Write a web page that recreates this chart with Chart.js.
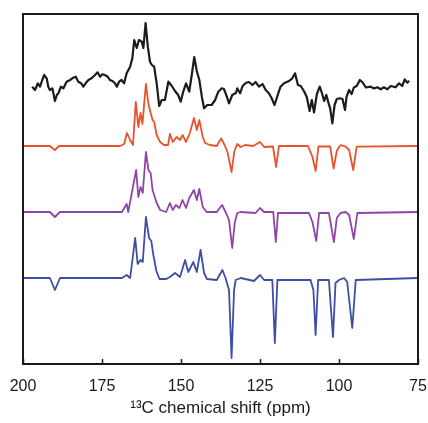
<!DOCTYPE html>
<html>
<head>
<meta charset="utf-8">
<script src="https://cdn.jsdelivr.net/npm/chart.js@4/dist/chart.umd.min.js"></script>
<style>
    html, body {margin: 0; padding: 0; background: #ffffff;}
    #wrap {width: 428px; height: 423px;}
</style>
</head>
<body>
<div id="wrap"><canvas id="nmr_canvas" width="428" height="423"></canvas></div>
<script>
// [ppm, intensity], intensity relative to each trace's own baseline
const experimental = [
    [197.1,3.3],[196.2,0],[195.3,6.7],[194.6,3.3],[193.9,10],[193.3,15],[192.5,11.7],[192.0,3.3],
    [191.5,0],[190.7,1.7],[189.9,-11],[189.3,-5],[188.8,-3.3],[188.0,3.3],[187.2,1.7],[186.2,8.3],
    [185.1,10],[184.1,12.3],[183.3,13.3],[182.5,8.3],[181.6,6.7],[180.9,3.3],[180.2,6.7],[179.3,10],
    [178.3,11.7],[177.2,15],[176.4,17.7],[175.6,13.3],[174.9,15.7],[174.1,15],[173.2,13.3],[172.5,10],
    [171.7,9],[170.9,6.7],[170.3,3.3],[169.6,8.3],[168.8,10],[168.0,6.7],[167.2,16.7],[166.1,23.3],
    [165.4,31.7],[164.8,50],[164.0,42],[163.3,50],[162.4,48.3],[161.9,42],[161.2,67],[160.5,43.3],
    [159.8,28],[159.2,25],[158.5,23.3],[157.7,6.7],[156.9,-16],[156.1,-10],[155.1,-10],[154.0,8.3],
    [152.9,4],[151.9,-1],[150.9,-5],[150.1,-11.7],[149.3,-1.7],[148.4,6.7],[147.4,-1.7],[146.6,15],
    [145.8,33],[145.0,19],[144.2,10],[143.4,-6.7],[142.7,-18.3],[141.7,-15],[140.3,-15],[139.2,-10],
    [138.2,-1.7],[137.1,1.7],[136.4,1],[135.5,-6.7],[134.8,-13.3],[133.8,-5],[132.6,-3],[132.2,1.7],
    [131.3,-3.3],[130.5,4],[129.4,7.3],[128.5,8],[127.4,5],[126.4,8],[125.3,3.3],[124.2,6],
    [123.2,0],[122.2,-3.3],[121.3,-8.3],[120.4,-15],[119.5,-6],[118.5,3.3],[117.4,6.7],[115.8,9],
    [114.8,11.7],[113.9,16.7],[113.0,5],[112.1,4],[111.1,-1],[110.2,-7],[109.3,-21],[108.6,-10],
    [107.9,-22.5],[107.0,-4],[106.1,3.3],[105.4,-3],[104.7,-11],[104.0,-5],[103.3,-13.3],[102.8,-18.3],
    [102.1,-33.3],[101.4,-15],[100.7,-9],[99.7,-8.3],[98.9,-9],[98.1,-20],[97.6,-6.7],[96.8,0],
    [96.0,-4],[95.3,2.5],[94.4,4],[93.4,10],[92.5,7.5],[91.5,2.5],[90.0,3.3],[88.9,1.5],
    [87.9,2.7],[86.8,0.7],[85.8,2.7],[84.7,0.7],[83.6,4],[82.1,2.7],[81.0,6.7],[80.0,4],
    [79.2,10.7],[78.4,7.3],[77.8,9.3]
];

const sim_red = [
    [200,0],[191.5,0],[189.9,-4],[188.6,0],[169.3,0],[168.0,2],[167.1,13],[166.1,6],[165.2,1],
    [164.3,44],[163.5,19],[162.8,33],[162.2,22],[161.1,62],[160.3,42],[159.6,33],[159.0,26],
    [158.5,24],[157.7,11],[156.6,4],[155.4,1],[154.1,1],[153.5,12],[152.6,4],[151.4,9],[150.3,6],
    [149.5,11],[148.4,4],[147.2,13],[145.9,28],[145.0,16],[144.2,26],[143.1,9],[142.4,3],[140.8,1],
    [138.7,0],[137.3,7.5],[136.2,1],[135.3,-6],[134.0,-26],[133.1,-5],[132.2,2],[131.1,-1],[129.7,1],
    [127.2,0],[125.0,4],[123.7,-1],[120.9,-0.5],[119.9,-21],[119.0,0],[109.8,0],[108.4,-11],
    [107.4,-25],[106.5,-0.5],[102.8,-0.5],[101.7,-22.5],[100.7,-5],[100.0,-1],[99.4,1],[97.9,-0.7],
    [96.8,-4],[95.5,-24],[94.4,-0.7],[75,0]
];

const sim_purple = [
    [200,0],[191.5,0],[189.9,-5],[188.3,0],[168.7,0],[167.2,8],[166.7,0],[164.2,42],[163.5,15],
    [162.8,25],[162.1,19],[161.1,60],[160.3,42],[159.6,39],[159.0,22],[157.7,9],[156.6,2],[154.7,0],
    [153.5,9],[152.6,2],[151.6,7],[150.5,4],[149.5,12],[148.4,4],[147.4,14],[145.9,22],[145.0,12],
    [144.2,23],[143.1,5],[141.9,0],[138.7,0],[137.0,7],[135.9,0],[134.8,-8],[133.8,-36],[133.0,-11],
    [132.2,-1],[131.1,0],[126.4,-1],[125.0,4],[123.7,0],[120.8,0],[120.0,-30],[119.3,-1],[109.5,-1],
    [108.4,-10],[107.2,-29],[106.3,-1],[103.2,-1],[101.6,-30],[100.7,-6],[99.5,-1],[97.9,0],
    [96.8,-3],[95.3,-27],[94.2,-1],[75,0]
];

const sim_blue = [
    [200,0],[191.5,0],[189.9,-12],[188.3,0],[168.7,0],[167.2,3],[166.1,0],[164.5,40],[163.7,14],
    [162.8,18],[162.1,16],[161.1,61],[160.1,40],[159.4,37],[158.8,24],[157.8,7],[156.8,-1],[154.7,-1],
    [153.5,1],[151.9,5],[150.3,1],[148.7,18],[147.7,6],[146.1,16],[145.0,6],[143.8,28],[142.7,5],
    [141.8,-1],[138.7,-2],[136.9,8],[135.9,0],[134.8,-12],[134.0,-80],[133.2,-12],[132.7,-2],
    [131.1,0],[126.9,-3],[125.0,3],[123.7,-2],[121.1,-2],[120.3,-65],[119.5,-2],[109.0,-2],
    [108.1,-12],[107.4,-57],[106.6,-2],[103.2,-2],[101.9,-59],[101.1,-5],[100.0,-2],[98.4,0],
    [97.4,-4],[95.8,-50],[94.7,-2],[75,0]
];

const x_ticks = [200, 175, 150, 125, 100, 75];
const x_title = "\u00B9\u00B3C chemical shift (ppm)";

// vertical stacking of the four traces (y axis runs 0..350)
const trace_offsets = [274, 218, 152, 86];
const trace_colors = ["#1c1c1c", "#e8532c", "#8f45a6", "#3d4ea6"];
const trace_widths = [2.2, 1.8, 1.8, 1.8];

function to_points(arr, offset) {
    return arr.map(p => ({x: p[0], y: p[1] + offset}));
}

const traces = [experimental, sim_red, sim_purple, sim_blue];
let datasets = [];
for (let i = 0; i < traces.length; i++) {
    datasets.push({
        data: to_points(traces[i], trace_offsets[i]),
        borderColor: trace_colors[i],
        borderWidth: trace_widths[i],
        pointRadius: 0,
        tension: 0,
        borderJoinStyle: 'round',
        fill: false
    });
}

// frame + inward ticks on the bottom axis
const frame_plugin = {
    id: 'frame',
    afterDraw(chart) {
        const ctx = chart.ctx;
        const a = chart.chartArea;
        const xs = chart.scales.x;
        ctx.save();
        ctx.strokeStyle = "#1a1a1a";
        ctx.lineWidth = 2;
        ctx.strokeRect(a.left, a.top, a.right - a.left, a.bottom - a.top);
        ctx.lineWidth = 1.5;
        for (const v of x_ticks) {
            const px = Math.round(xs.getPixelForValue(v)) + 0.5;
            ctx.beginPath();
            ctx.moveTo(px, a.bottom);
            ctx.lineTo(px, a.bottom - 5);
            ctx.stroke();
        }
        ctx.restore();
    }
};

const config = {
    type: 'line',
    data: {datasets: datasets},
    options: {
        responsive: false,
        animation: false,
        layout: {padding: {left: 23, right: 10, top: 14, bottom: 4}},
        plugins: {
            legend: {display: false},
            tooltip: {enabled: false}
        },
        scales: {
            x: {
                type: 'linear',
                reverse: true,
                min: 75,
                max: 200,
                afterBuildTicks: function(scale) {
                    scale.ticks = x_ticks.map(v => ({value: v}));
                },
                afterFit: function(scale) {
                    scale.height = 55;
                    scale.paddingLeft = 0;
                    scale.paddingRight = 0;
                },
                grid: {display: false, drawTicks: false},
                border: {display: false},
                ticks: {
                    padding: 13,
                    color: "#1a1a1a",
                    font: {family: "Liberation Sans", size: 16},
                    maxRotation: 0
                },
                title: {
                    display: true,
                    text: x_title,
                    color: "#1a1a1a",
                    font: {family: "Liberation Sans", size: 17},
                    padding: {top: 2, bottom: 0}
                }
            },
            y: {
                display: false,
                min: 0,
                max: 350
            }
        }
    },
    plugins: [frame_plugin]
};

const nmr_plot = new Chart(document.getElementById('nmr_canvas'), config);
</script>
</body>
</html>
